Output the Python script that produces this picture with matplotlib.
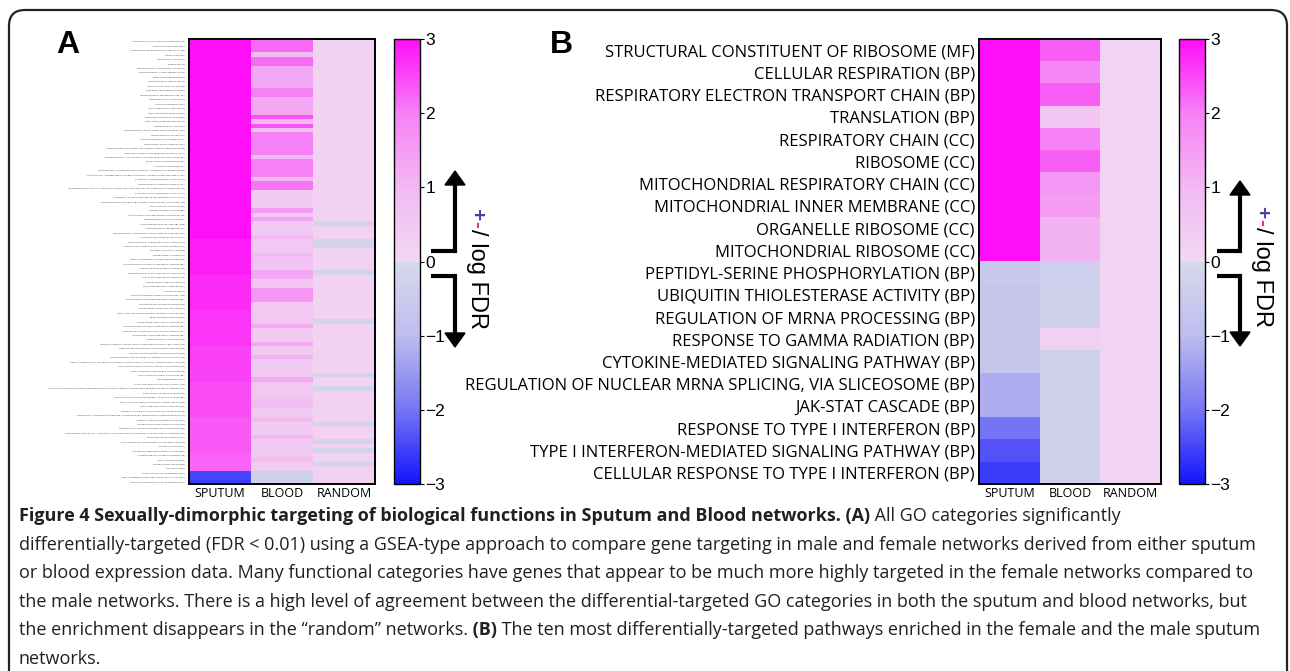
"""Figure 4: sexually-dimorphic targeting heatmaps (sputum / blood / random)."""

import matplotlib.pyplot as plt
import numpy as np
from matplotlib import cm
from matplotlib.colors import LinearSegmentedColormap, Normalize
from matplotlib.patches import FancyBboxPatch, Polygon

W, H = 1290, 671

COLUMNS = ["SPUTUM", "BLOOD", "RANDOM"]

# ---- panel A: all significant GO categories --------------------------------
labels_a = [
    "STRUCTURAL CONSTITUENT OF RIBOSOME (MF)", "CELLULAR RESPIRATION (BP)",
    "RESPIRATORY ELECTRON TRANSPORT CHAIN (BP)", "TRANSLATION (BP)",
    "RESPIRATORY CHAIN (CC)", "RIBOSOME (CC)", "MITOCHONDRIAL RESPIRATORY CHAIN (CC)",
    "MITOCHONDRIAL INNER MEMBRANE (CC)", "ORGANELLE RIBOSOME (CC)", "MITOCHONDRIAL RIBOSOME (CC)",
    "TRANSLATIONAL ELONGATION (BP)", "ELECTRON TRANSPORT CHAIN (BP)",
    "MITOCHONDRIAL MEMBRANE PART (CC)", "LARGE RIBOSOMAL SUBUNIT (CC)", "VIRAL TRANSCRIPTION (BP)",
    "SMALL RIBOSOMAL SUBUNIT (CC)", "VIRAL GENOME EXPRESSION (BP)", "OXIDATIVE PHOSPHORYLATION (BP)",
    "ORGANELLE INNER MEMBRANE (CC)", "MITOCHONDRIAL PART (CC)",
    "MITOCHONDRIAL RESPIRATORY CHAIN COMPLEX I (CC)", "MITOCHONDRIAL MATRIX (CC)",
    "NADH DEHYDROGENASE COMPLEX (CC)", "RESPIRATORY CHAIN COMPLEX I (CC)",
    "MITOCHONDRIAL ELECTRON TRANSPORT, NADH TO UBIQUINONE (BP)",
    "NADH DEHYDROGENASE (UBIQUINONE) ACTIVITY (MF)",
    "MITOCHONDRIAL ATP SYNTHESIS COUPLED ELECTRON TRANSPORT (BP)", "TRANSLATIONAL TERMINATION (BP)",
    "CYTOSOLIC RIBOSOME (CC)", "SRP-DEPENDENT COTRANSLATIONAL PROTEIN TARGETING TO MEMBRANE (BP)",
    "NUCLEAR-TRANSCRIBED MRNA CATABOLIC PROCESS, NONSENSE-MEDIATED DECAY (BP)",
    "CYTOSOLIC LARGE RIBOSOMAL SUBUNIT (CC)", "MITOCHONDRIAL PROTEIN COMPLEX (CC)",
    "OXIDOREDUCTASE ACTIVITY, ACTING ON NAD(P)H, QUINONE OR SIMILAR COMPOUND AS ACCEPTOR (MF)",
    "CYTOSOLIC SMALL RIBOSOMAL SUBUNIT (CC)", "HYDROGEN ION TRANSMEMBRANE TRANSPORTER ACTIVITY (MF)",
    "MITOCHONDRIAL ELECTRON TRANSPORT, CYTOCHROME C TO OXYGEN (BP)", "TRANSLATIONAL INITIATION (BP)",
    "PROTEIN TARGETING TO ER (BP)", "ATP SYNTHESIS COUPLED PROTON TRANSPORT (BP)",
    "MITOCHONDRIAL TRANSLATION (BP)", "CYTOCHROME COMPLEX ASSEMBLY (BP)",
    "MITOCHONDRIAL MEMBRANE (CC)", "MITOCHONDRIAL RESPIRATORY CHAIN COMPLEX ASSEMBLY (BP)",
    "CYTOCHROME-C OXIDASE ACTIVITY (MF)", "MITOCHONDRIAL LARGE RIBOSOMAL SUBUNIT (CC)",
    "PROTON-TRANSPORTING ATP SYNTHASE COMPLEX (CC)", "TRICARBOXYLIC ACID CYCLE (BP)",
    "PROTEASOME COMPLEX (CC)", "RIBONUCLEOPROTEIN COMPLEX BIOGENESIS (BP)",
    "NUCLEOSIDE TRIPHOSPHATE METABOLIC PROCESS (BP)", "COENZYME BIOSYNTHETIC PROCESS (BP)",
    "MITOCHONDRIAL SMALL RIBOSOMAL SUBUNIT (CC)", "ACETYL-COA METABOLIC PROCESS (BP)",
    "PROTEASOME CORE COMPLEX (CC)", "COFACTOR METABOLIC PROCESS (BP)", "NUCLEOSOME (CC)",
    "CELLULAR PROTEIN COMPLEX DISASSEMBLY (BP)", "PURINE RIBONUCLEOTIDE METABOLIC PROCESS (BP)",
    "GLUCOSAMINE METABOLIC PROCESS (BP)", "PROTEASOME ACCESSORY COMPLEX (CC)",
    "REGULATION OF CELLULAR AMINE METABOLIC PROCESS (BP)", "HEME METABOLIC PROCESS (BP)",
    "PROTEASOME REGULATORY PARTICLE (CC)", "NUCLEOSIDE BISPHOSPHATE METABOLIC PROCESS (BP)",
    "PROTON-TRANSPORTING V-TYPE ATPASE COMPLEX (CC)", "NUCLEOTIDE-SUGAR METABOLIC PROCESS (BP)",
    "MITOCHONDRIAL TRANSPORT (BP)",
    "UBIQUITIN-PROTEIN LIGASE ACTIVITY INVOLVED IN MITOTIC CELL CYCLE (MF)",
    "RIBONUCLEOSIDE DIPHOSPHATE METABOLIC PROCESS (BP)", "PURINE NUCLEOTIDE BIOSYNTHETIC PROCESS (BP)",
    "POSITIVE REGULATION OF UBIQUITIN-PROTEIN LIGASE ACTIVITY (BP)",
    "NEGATIVE REGULATION OF UBIQUITIN-PROTEIN LIGASE ACTIVITY INVOLVED IN MITOTIC CELL CYCLE (BP)",
    "TRANSLATION FACTOR ACTIVITY, NUCLEIC ACID BINDING (MF)", "REGULATION OF CHOLESTEROL TRANSPORT (BP)",
    "REGULATION OF STEROL TRANSPORT (BP)", "GLUCONEOGENESIS (BP)",
    "ALDO-KETO REDUCTASE (NADP) ACTIVITY (MF)",
    "ANAPHASE-PROMOTING COMPLEX-DEPENDENT PROTEASOMAL UBIQUITIN-DEPENDENT PROTEIN CATABOLIC PROCESS (BP)",
    "COENZYME METABOLIC PROCESS (BP)", "CELLULAR COMPONENT DISASSEMBLY AT CELLULAR LEVEL (BP)",
    "REGULATION OF UBIQUITIN-PROTEIN LIGASE ACTIVITY (BP)", "COFACTOR BIOSYNTHETIC PROCESS (BP)",
    "PROTEIN N-LINKED GLYCOSYLATION VIA ASPARAGINE (BP)",
    "PROTON-TRANSPORTING TWO-SECTOR ATPASE COMPLEX, PROTON-TRANSPORTING DOMAIN (CC)",
    "PEPTIDYL-ASPARAGINE MODIFICATION (BP)", "PROTEIN K48-LINKED UBIQUITINATION (BP)",
    "PROTEIN LOCALIZATION TO ENDOPLASMIC RETICULUM (BP)",
    "OXIDOREDUCTASE ACTIVITY, ACTING ON THE CH-OH GROUP OF DONORS, NAD OR NADP AS ACCEPTOR (MF)",
    "OXIDOREDUCTASE COMPLEX (CC)", "RNA SPLICING, VIA TRANSESTERIFICATION REACTIONS (BP)",
    "PROTEIN FOLDING (BP)", "CHAPERONE-MEDIATED PROTEIN FOLDING (BP)",
    "CARBOHYDRATE CATABOLIC PROCESS (BP)", "MRNA PROCESSING (BP)", "PROTEIN STABILIZATION (BP)",
    "GLYCOLYSIS (BP)", "RESPONSE TO TYPE I INTERFERON (BP)",
    "TYPE I INTERFERON-MEDIATED SIGNALING PATHWAY (BP)", "CELLULAR RESPONSE TO TYPE I INTERFERON (BP)",
]

sputum_a = [
    3.0, 3.0, 3.0, 3.0, 3.0, 3.0, 3.0, 3.0, 3.0, 3.0,
    3.0, 3.0, 3.0, 3.0, 3.0, 3.0, 3.0, 3.0, 3.0, 3.0,
    3.0, 3.0, 3.0, 3.0, 3.0, 3.0, 3.0, 3.0, 3.0, 3.0,
    3.0, 3.0, 3.0, 3.0, 3.0, 3.0, 3.0, 3.0, 3.0, 3.0,
    3.0, 3.0, 3.0, 3.0, 3.0, 2.85, 2.85, 2.85, 2.85, 2.85,
    2.85, 2.85, 2.85, 2.75, 2.75, 2.75, 2.75, 2.75, 2.75, 2.75,
    2.75, 2.65, 2.65, 2.65, 2.65, 2.65, 2.65, 2.65, 2.65, 2.55,
    2.55, 2.55, 2.55, 2.55, 2.55, 2.55, 2.55, 2.45, 2.45, 2.45,
    2.45, 2.45, 2.45, 2.45, 2.45, 2.35, 2.35, 2.35, 2.35, 2.35,
    2.35, 2.35, 2.35, 2.25, 2.25, 2.25, 2.25, -2.5, -2.5, -2.6,
]
blood_a = [
    2.2, 2.2, 2.2, 0.8, 2.2, 2.2, 1.3, 1.3, 1.3, 1.3,
    1.3, 2.0, 2.0, 1.3, 1.3, 1.3, 1.3, 2.4, 1.0, 2.4,
    0.8, 2.0, 2.0, 2.0, 2.0, 2.0, 1.0, 2.0, 2.0, 2.0,
    2.0, 1.0, 2.1, 2.1, 0.4, 0.4, 0.4, 0.4, 1.5, 0.5,
    1.4, 0.4, 0.4, 0.4, 1.0, 0.5, 0.5, 0.5, 1.0, 0.7,
    0.7, 0.7, 1.3, 1.3, 0.6, 0.6, 1.6, 1.6, 1.6, 0.5,
    0.5, 0.5, 0.5, 0.5, 1.2, 0.4, 0.4, 0.4, 1.3, 0.4,
    0.4, 1.1, 0.4, 0.4, 0.4, 0.4, 1.3, 0.5, 0.5, 0.5,
    0.5, 0.8, 0.8, 0.4, 0.4, 0.9, 0.4, 0.4, 0.4, 1.0,
    0.4, 0.4, 0.4, 0.4, 0.8, 0.4, 0.4, -0.3, -0.3, -0.3,
]
random_a = [
    0.15, 0.15, 0.15, 0.15, 0.15, 0.15, 0.15, 0.15, 0.15, 0.15,
    0.15, 0.15, 0.15, 0.15, 0.15, 0.15, 0.15, 0.15, 0.15, 0.15,
    0.15, 0.15, 0.15, 0.15, 0.15, 0.15, 0.15, 0.15, 0.15, 0.15,
    0.15, 0.15, 0.15, 0.15, 0.15, 0.15, 0.15, 0.15, 0.15, 0.15,
    0.15, -0.15, 0.15, 0.15, 0.15, -0.15, -0.15, 0.15, 0.15, 0.15,
    0.15, 0.15, -0.15, 0.15, 0.15, 0.15, 0.15, 0.15, 0.15, 0.15,
    0.15, 0.15, 0.15, -0.15, 0.15, 0.15, 0.15, 0.15, 0.15, 0.15,
    0.15, 0.15, 0.15, 0.15, 0.15, -0.15, 0.15, 0.15, -0.15, 0.15,
    0.15, 0.15, 0.15, 0.15, 0.15, 0.15, -0.15, 0.15, 0.15, 0.15,
    -0.15, 0.15, -0.15, 0.15, 0.15, -0.15, 0.15, 0.15, 0.15, 0.15,
]

# ---- panel B: top ten pathways each way ------------------------------------
labels_b = [
    "STRUCTURAL CONSTITUENT OF RIBOSOME (MF)", "CELLULAR RESPIRATION (BP)",
    "RESPIRATORY ELECTRON TRANSPORT CHAIN (BP)", "TRANSLATION (BP)", "RESPIRATORY CHAIN (CC)",
    "RIBOSOME (CC)", "MITOCHONDRIAL RESPIRATORY CHAIN (CC)", "MITOCHONDRIAL INNER MEMBRANE (CC)",
    "ORGANELLE RIBOSOME (CC)", "MITOCHONDRIAL RIBOSOME (CC)",
    "PEPTIDYL-SERINE PHOSPHORYLATION (BP)", "UBIQUITIN THIOLESTERASE ACTIVITY (BP)",
    "REGULATION OF MRNA PROCESSING (BP)", "RESPONSE TO GAMMA RADIATION (BP)",
    "CYTOKINE-MEDIATED SIGNALING PATHWAY (BP)",
    "REGULATION OF NUCLEAR MRNA SPLICING, VIA SLICEOSOME (BP)", "JAK-STAT CASCADE (BP)",
    "RESPONSE TO TYPE I INTERFERON (BP)", "TYPE I INTERFERON-MEDIATED SIGNALING PATHWAY (BP)",
    "CELLULAR RESPONSE TO TYPE I INTERFERON (BP)",
]
sputum_b = [3.0, 3.0, 3.0, 3.0, 3.0, 3.0, 3.0, 3.0, 3.0, 3.0,
            -0.55, -0.65, -0.65, -0.65, -0.65, -1.2, -1.2, -2.0, -2.35, -2.6]
blood_b = [2.3, 1.9, 2.3, 0.6, 2.0, 2.3, 1.6, 1.5, 1.1, 1.1,
           -0.35, -0.3, -0.3, 0.2, -0.3, -0.3, -0.3, -0.3, -0.3, -0.3]
random_b = [0.1, 0.1, 0.1, 0.1, 0.1, 0.1, 0.1, 0.1, 0.1, 0.1,
            0.1, 0.1, 0.1, 0.1, 0.1, 0.1, 0.1, 0.1, 0.1, 0.1]

CBAR_TICKS = [3, 2, 1, 0, -1, -2, -3]

CAPTION = [
    [("Figure 4 Sexually-dimorphic targeting of biological functions in Sputum and Blood "
      "networks. (A)", "bold"), (" All GO categories significantly", "normal")],
    [("differentially-targeted (FDR < 0.01) using a GSEA-type approach to compare gene targeting "
      "in male and female networks derived from either sputum", "normal")],
    [("or blood expression data. Many functional categories have genes that appear to be much more "
      "highly targeted in the female networks compared to", "normal")],
    [("the male networks. There is a high level of agreement between the differential-targeted GO "
      "categories in both the sputum and blood networks, but", "normal")],
    [("the enrichment disappears in the \u201crandom\u201d networks.", "normal"), (" (B)", "bold"),
     (" The ten most differentially-targeted pathways enriched in the female and the male sputum",
      "normal")],
    [("networks.", "normal")],
]

# blue -> lavender | light pink -> magenta, with a break at zero
cmap = LinearSegmentedColormap.from_list("fdr", [
    (0.0, "#1414ff"), (1 / 6, "#7676f4"), (2 / 6, "#bdbdef"), (0.4999, "#d7d9ec"),
    (0.5, "#f1d8f1"), (4 / 6, "#f3b9f3"), (5 / 6, "#f682f6"), (1.0, "#ff0ef8"),
])
norm = Normalize(vmin=-3, vmax=3)


def rect(x0, y0, x1, y1):
    return [x0 / W, 1 - y1 / H, (x1 - x0) / W, (y1 - y0) / H]


def heatmap(ax, cols, labels, label_size, label_color):
    data = np.column_stack(cols)
    ax.imshow(data, cmap=cmap, norm=norm, aspect="auto", interpolation="nearest")
    ax.set_yticks(range(len(labels)))
    ax.set_yticklabels(labels, fontsize=label_size, family="Open Sans", color=label_color)
    ax.set_xticks(range(len(COLUMNS)))
    ax.set_xticklabels(COLUMNS, fontsize=9, family="Open Sans")
    ax.tick_params(length=0, pad=2)
    ax.tick_params(axis="y", pad=3)
    for s in ax.spines.values():
        s.set_linewidth(1.4)


def colorbar(cax):
    cb = fig.colorbar(cm.ScalarMappable(norm=norm, cmap=cmap), cax=cax)
    cb.set_ticks(CBAR_TICKS)
    cb.outline.set_linewidth(1.0)
    cax.tick_params(length=3, width=0.8, labelsize=12.5, pad=1)
    for t in cax.get_yticklabels():
        t.set_family("Liberation Sans")


def fdr_key(x_stem, x_left, y_top_tip, y_bot_tip, x_text, y_text):
    lw = 3.0
    over.plot([x_left, x_stem, x_stem], [251, 251, y_top_tip + 12], color="k", lw=lw,
              solid_joinstyle="miter", solid_capstyle="butt")
    over.plot([x_left, x_stem, x_stem], [276, 276, y_bot_tip - 12], color="k", lw=lw,
              solid_joinstyle="miter", solid_capstyle="butt")
    over.add_patch(Polygon([(x_stem, y_top_tip), (x_stem - 10, y_top_tip + 14),
                            (x_stem + 10, y_top_tip + 14)], color="k"))
    over.add_patch(Polygon([(x_stem, y_bot_tip), (x_stem - 10, y_bot_tip - 14),
                            (x_stem + 10, y_bot_tip - 14)], color="k"))
    renderer = fig.canvas.get_renderer()
    inv = over.transData.inverted()
    y = y_text
    for s, color, size, weight in [("+", "#4b3aa6", 15, "bold"), ("-", "#e3247d", 15, "bold"),
                                   ("/ log FDR", "k", 17, "normal")]:
        t = over.text(x_text, y, s, rotation=-90, rotation_mode="anchor", ha="left", va="center",
                      color=color, fontsize=size, fontweight=weight, family="Liberation Sans")
        bb = t.get_window_extent(renderer)
        y = inv.transform((bb.x0, bb.y0))[1] + 1


fig = plt.figure(figsize=(W / 100, H / 100), dpi=100)
over = fig.add_axes([0, 0, 1, 1], zorder=5)
over.set_xlim(0, W)
over.set_ylim(H, 0)
over.axis("off")

over.add_patch(FancyBboxPatch((9, 10), 1278, 720, boxstyle="round,pad=0,rounding_size=16",
                              fill=False, ec="#222222", lw=1.6))

ax_a = fig.add_axes(rect(189, 39, 375, 484))
heatmap(ax_a, [sputum_a, blood_a, random_a], labels_a, 1.7, "#333333")
colorbar(fig.add_axes(rect(394, 39, 420, 484)))

ax_b = fig.add_axes(rect(979, 39, 1161, 484))
heatmap(ax_b, [sputum_b, blood_b, random_b], labels_b, 12, "black")
colorbar(fig.add_axes(rect(1179, 39, 1205, 484)))

over.text(68, 45, "A", ha="center", va="center", fontsize=23, fontweight="bold",
          family="Liberation Sans")
over.text(561, 45, "B", ha="center", va="center", fontsize=23, fontweight="bold",
          family="Liberation Sans")

fdr_key(455, 431, 171, 347, 477, 208)
fdr_key(1240, 1217, 181, 346, 1262, 206)

renderer = fig.canvas.get_renderer()
inv = over.transData.inverted()
for i, line in enumerate(CAPTION):
    x = 19
    for s, weight in line:
        t = over.text(x, 521 + i * 28.6, s, ha="left", va="baseline", fontsize=12.95,
                      fontweight=weight, family="Open Sans", color="#231f20")
        bb = t.get_window_extent(renderer)
        x = inv.transform((bb.x1, bb.y0))[0]

fig.savefig("out.png", dpi=100)
